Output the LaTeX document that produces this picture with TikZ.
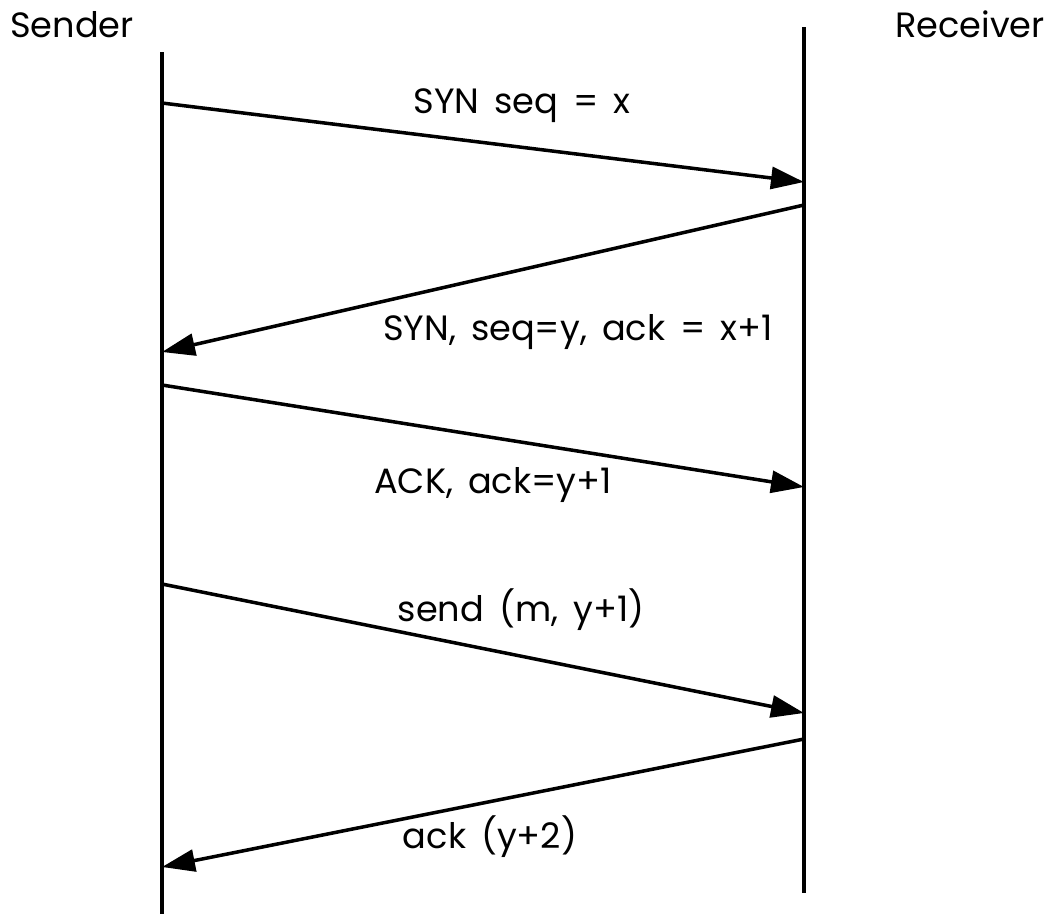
\documentclass[tikz,border=0pt]{standalone}
\usepackage{fontspec}
\setmainfont{Poppins}[WordSpace=1.6]
\usetikzlibrary{arrows.meta, positioning}
\tikzstyle{lifeline}=[line width=2pt]
\tikzstyle{message}=[line width=2pt, -{Triangle[length=0.66cm, width=0.44cm]}]
\tikzstyle{party}=[inner sep=0pt, anchor=base, font=\fontsize{20}{24}\selectfont]
\tikzstyle{msgLabel}=[inner sep=0pt, anchor=base, font=\fontsize{20}{24}\selectfont]

\begin{document}
\begin{tikzpicture}[x=0.02cm, y=-0.02cm]
    \useasboundingbox (0, 0) rectangle (1058, 914);

    \node (sender)[party] at (72, 37) {Sender};
    \node (receiver)[party] at (970, 37) {Receiver};

    \coordinate (sTop) at (162, 52);
    \coordinate (sBot) at (162, 914);
    \coordinate (rTop) at (804, 27);
    \coordinate (rBot) at (804, 893);
    \draw[lifeline] (sTop) -- (sBot);
    \draw[lifeline] (rTop) -- (rBot);

    % points on the lifelines
    \coordinate (s1) at (162, 103);
    \coordinate (r1) at (804, 182);
    \coordinate (r2) at (804, 205);
    \coordinate (s2) at (162, 352);
    \coordinate (s3) at (162, 385);
    \coordinate (r3) at (804, 487);
    \coordinate (s4) at (162, 584);
    \coordinate (r4) at (804, 713);
    \coordinate (r5) at (804, 739);
    \coordinate (s5) at (162, 867);

    \draw[message] (s1) -- (r1);
    \draw[message] (r2) -- (s2);
    \draw[message] (s3) -- (r3);
    \draw[message] (s4) -- (r4);
    \draw[message] (r5) -- (s5);

    \node (syn)[msgLabel] at (522, 113) {SYN seq = x};
    \node (synack)[msgLabel] at (578, 340) {SYN, seq=y, ack = x+1};
    \node (ack)[msgLabel] at (493, 493) {ACK, ack=y+1};
    \node (send)[msgLabel] at (521, 621) {send (m, y+1)};
    \node (ackdata)[msgLabel] at (490, 848) {ack (y+2)};
\end{tikzpicture}
\end{document}
